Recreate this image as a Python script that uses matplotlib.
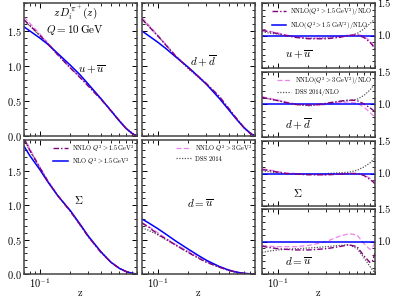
import numpy as np
import matplotlib
matplotlib.use('Agg')
import matplotlib.pyplot as plt
from matplotlib.ticker import MultipleLocator, NullFormatter, FixedLocator

plt.rcParams['font.family'] = 'serif'
plt.rcParams['font.serif'] = ['cmr10', 'DejaVu Serif']
plt.rcParams['mathtext.fontset'] = 'cm'
plt.rcParams['axes.formatter.use_mathtext'] = True
plt.rcParams['axes.unicode_minus'] = False

# z grid (shared by all curves)
z = [0.07, 0.08, 0.1, 0.12, 0.15, 0.2, 0.25, 0.3, 0.4, 0.5, 0.6, 0.7, 0.8, 0.85, 0.9]

# z D_i^{pi+}(z) at Q = 10 GeV
uu_nlo   = [1.56, 1.50, 1.40, 1.31, 1.18, 1.01, 0.87, 0.74, 0.53, 0.36, 0.22, 0.11, 0.04, 0.018, 0.004]
uu_nnlo1 = [1.66, 1.58, 1.44, 1.32, 1.16, 0.97, 0.83, 0.71, 0.52, 0.36, 0.22, 0.11, 0.038, 0.015, 0.003]
uu_nnlo3 = [1.70, 1.61, 1.46, 1.33, 1.17, 0.98, 0.84, 0.72, 0.53, 0.37, 0.23, 0.115, 0.039, 0.016, 0.003]
uu_dss   = [1.65, 1.57, 1.43, 1.31, 1.16, 0.97, 0.84, 0.72, 0.53, 0.36, 0.23, 0.12, 0.048, 0.022, 0.005]

dd_nlo   = [1.50, 1.44, 1.34, 1.25, 1.13, 0.98, 0.85, 0.74, 0.54, 0.37, 0.23, 0.12, 0.045, 0.02, 0.004]
dd_nnlo1 = [1.67, 1.58, 1.43, 1.30, 1.14, 0.97, 0.85, 0.75, 0.57, 0.39, 0.24, 0.12, 0.042, 0.018, 0.004]
dd_nnlo3 = [1.69, 1.60, 1.44, 1.31, 1.15, 0.97, 0.84, 0.74, 0.56, 0.38, 0.24, 0.12, 0.040, 0.017, 0.003]
dd_dss   = [1.66, 1.58, 1.43, 1.30, 1.14, 0.96, 0.84, 0.74, 0.56, 0.38, 0.24, 0.13, 0.052, 0.024, 0.005]

sg_nlo   = [1.86, 1.72, 1.52, 1.34, 1.14, 0.92, 0.72, 0.55, 0.32, 0.17, 0.085, 0.037, 0.012, 0.005, 0.001]
sg_nnlo1 = [1.98, 1.80, 1.55, 1.35, 1.14, 0.91, 0.71, 0.54, 0.31, 0.17, 0.084, 0.036, 0.010, 0.004, 0.001]
sg_nnlo3 = [2.00, 1.82, 1.56, 1.36, 1.15, 0.91, 0.71, 0.54, 0.31, 0.17, 0.084, 0.036, 0.010, 0.004, 0.001]
sg_dss   = [1.96, 1.79, 1.54, 1.35, 1.14, 0.91, 0.71, 0.54, 0.32, 0.17, 0.088, 0.040, 0.014, 0.006, 0.001]

du_nlo   = [0.80, 0.75, 0.66, 0.58, 0.48, 0.36, 0.27, 0.20, 0.11, 0.055, 0.025, 0.010, 0.003, 0.001, 0.0]
du_nnlo1 = [0.74, 0.69, 0.58, 0.51, 0.42, 0.31, 0.23, 0.17, 0.10, 0.052, 0.023, 0.008, 0.002, 0.001, 0.0]
du_nnlo3 = [0.75, 0.70, 0.60, 0.52, 0.43, 0.33, 0.25, 0.19, 0.11, 0.061, 0.027, 0.009, 0.0027, 0.001, 0.0]
du_dss   = [0.67, 0.64, 0.57, 0.50, 0.42, 0.32, 0.24, 0.18, 0.10, 0.052, 0.022, 0.007, 0.0016, 0.0005, 0.0]

# ratios to NLO
r_uu_nnlo1 = [1.08, 1.06, 1.03, 1.00, 0.97, 0.95, 0.95, 0.95, 0.97, 1.00, 1.01, 0.97, 0.90, 0.85, 0.79]
r_uu_nnlo3 = [1.09, 1.07, 1.04, 1.01, 0.98, 0.96, 0.96, 0.96, 0.98, 1.01, 1.02, 0.99, 0.92, 0.87, 0.81]
r_uu_dss   = [1.06, 1.04, 1.02, 1.00, 0.98, 0.96, 0.96, 0.97, 0.99, 1.00, 1.03, 1.10, 1.18, 1.22, 1.25]
r_dd_nnlo1 = [1.11, 1.09, 1.06, 1.03, 1.00, 0.99, 1.00, 1.02, 1.05, 1.07, 1.06, 1.01, 0.95, 0.92, 0.89]
r_dd_nnlo3 = [1.12, 1.10, 1.07, 1.04, 1.01, 0.99, 0.99, 1.00, 1.03, 1.04, 1.02, 0.96, 0.88, 0.84, 0.81]
r_dd_dss   = [1.10, 1.09, 1.06, 1.03, 1.00, 0.98, 0.99, 1.01, 1.04, 1.06, 1.08, 1.14, 1.22, 1.27, 1.30]
r_sg_nnlo1 = [1.06, 1.05, 1.02, 1.00, 0.99, 0.98, 0.98, 0.98, 0.99, 1.00, 1.00, 0.97, 0.91, 0.88, 0.84]
r_sg_nnlo3 = [1.07, 1.06, 1.03, 1.01, 1.00, 0.99, 0.98, 0.98, 0.99, 1.00, 1.00, 0.98, 0.93, 0.89, 0.85]
r_sg_dss   = [1.04, 1.03, 1.01, 1.00, 0.99, 0.99, 0.99, 1.00, 1.01, 1.02, 1.05, 1.10, 1.16, 1.20, 1.24]
r_du_nnlo1 = [0.93, 0.91, 0.89, 0.88, 0.87, 0.87, 0.88, 0.89, 0.92, 0.95, 0.92, 0.78, 0.68, 0.70, 0.82]
r_du_nnlo3 = [0.94, 0.93, 0.92, 0.92, 0.92, 0.94, 0.97, 1.00, 1.08, 1.12, 1.10, 0.97, 0.88, 0.90, 1.00]
r_du_dss   = [0.83, 0.85, 0.87, 0.88, 0.89, 0.90, 0.91, 0.92, 0.94, 0.95, 0.89, 0.75, 0.62, 0.56, 0.52]
r_nlo      = [1.0] * len(z)

C_NNLO1 = '#80007f'
C_NLO = '#0000ff'
C_NNLO3 = '#ee82ee'
C_DSS = '#555555'

def style(ax, ylim, right=False):
    ax.set_xscale('log')
    ax.set_xlim(0.07, 0.9)
    ax.set_ylim(*ylim)
    ax.tick_params(which='both', direction='in', top=True, right=True, labelsize=7.5, pad=1.5)
    ax.tick_params(which='major', length=3.5, width=0.7)
    ax.tick_params(which='minor', length=2, width=0.6)
    ax.xaxis.set_minor_formatter(NullFormatter())
    ax.yaxis.set_minor_locator(MultipleLocator(0.1))
    for s in ax.spines.values():
        s.set_linewidth(1.1)
        s.set_color('#444444')
    if right:
        ax.yaxis.set_major_locator(FixedLocator([0.5, 1.0, 1.5]))
        ax.yaxis.tick_right()
        ax.yaxis.set_ticks_position('both')
        ax.set_yticklabels(['', '1.0', '1.5'])
    else:
        ax.yaxis.set_major_locator(MultipleLocator(0.5))

def curves(ax, a, b, c, d):
    ax.plot(z, d, color=C_DSS, ls=(0, (1, 1.2)), lw=0.9, label='DSS 2014')
    ax.plot(z, c, color=C_NNLO3, ls=(0, (4, 2)), lw=0.9, label=r'NNLO $Q^2 > 3\,\mathrm{GeV}^2$')
    ax.plot(z, b, color=C_NLO, ls='-', lw=1.1, label=r'NLO $Q^2 > 1.5\,\mathrm{GeV}^2$')
    ax.plot(z, a, color=C_NNLO1, ls=(0, (4, 1.5, 1, 1.5)), lw=1.0, label=r'NNLO $Q^2 > 1.5\,\mathrm{GeV}^2$')

fig = plt.figure(figsize=(3.99, 2.99), dpi=100)
W = 399.0; H = 299.0
def box(x0, y0, x1, y1):
    return [x0 / W, 1 - y1 / H, (x1 - x0) / W, (y1 - y0) / H]

ax_uu = fig.add_axes(box(24, 3, 137, 136))
ax_dd = fig.add_axes(box(142, 3, 255, 136))
ax_sg = fig.add_axes(box(24, 140, 137, 274))
ax_du = fig.add_axes(box(142, 140, 255, 274))
rb = [(3, 68), (72, 137), (141, 206), (209, 274)]
rax = [fig.add_axes(box(262, y0, 375, y1)) for y0, y1 in rb]

for ax, data, yl in [(ax_uu, (uu_nnlo1, uu_nlo, uu_nnlo3, uu_dss), (0, 1.9)),
                     (ax_dd, (dd_nnlo1, dd_nlo, dd_nnlo3, dd_dss), (0, 1.9)),
                     (ax_sg, (sg_nnlo1, sg_nlo, sg_nnlo3, sg_dss), (0, 1.95)),
                     (ax_du, (du_nnlo1, du_nlo, du_nnlo3, du_dss), (0, 1.95))]:
    curves(ax, *data)
    style(ax, yl)

rdata = [(r_uu_nnlo1, r_nlo, r_uu_nnlo3, r_uu_dss),
         (r_dd_nnlo1, r_nlo, r_dd_nnlo3, r_dd_dss),
         (r_sg_nnlo1, r_nlo, r_sg_nnlo3, r_sg_dss),
         (r_du_nnlo1, r_nlo, r_du_nnlo3, r_du_dss)]
for ax, d in zip(rax, rdata):
    curves(ax, *d)
    style(ax, (0.5, 1.5), right=True)

for ax in [ax_dd, ax_du]:
    ax.set_yticklabels([])
for ax in [ax_uu, ax_dd] + rax[:3]:
    ax.set_xticklabels([])
for ax in [ax_sg, ax_du, rax[3]]:
    ax.set_xlabel('z', fontsize=7.5, labelpad=-1)

# labels
ax_uu.text(0.45, 0.925, r'$z\,D_i^{\pi^+}(z)$', transform=ax_uu.transAxes, ha='center', va='center', fontsize=8)
ax_uu.text(0.45, 0.80, r'$Q = 10\,\mathrm{GeV}$', transform=ax_uu.transAxes, ha='center', va='center', fontsize=8)
ax_uu.text(0.60, 0.50, r'$u+\overline{u}$', transform=ax_uu.transAxes, ha='center', va='center', fontsize=8)
ax_dd.text(0.54, 0.56, r'$d+\overline{d}$', transform=ax_dd.transAxes, ha='center', va='center', fontsize=8)
ax_sg.text(0.48, 0.55, r'$\Sigma$', transform=ax_sg.transAxes, ha='center', va='center', fontsize=8)
ax_du.text(0.52, 0.53, r'$d=\overline{u}$', transform=ax_du.transAxes, ha='center', va='center', fontsize=8)
for ax, lab in zip(rax, [r'$u+\overline{u}$', r'$d+\overline{d}$', r'$\Sigma$', r'$d=\overline{u}$']):
    ax.text(0.32, 0.2, lab, transform=ax.transAxes, ha='center', va='center', fontsize=8)

def leg(ax, idx, labels, hl=2.4):
    h, _ = ax.get_legend_handles_labels()
    ax.legend([h[i] for i in idx], labels, loc='upper right', fontsize=4.6, frameon=False,
              handlelength=hl, handletextpad=0.6, labelspacing=0.35, borderpad=0.2, borderaxespad=0.2)

leg(ax_sg, [3, 2], [r'NNLO $Q^2 > 1.5\,\mathrm{GeV}^2$', r'NLO $Q^2 > 1.5\,\mathrm{GeV}^2$'])
leg(ax_du, [1, 0], [r'NNLO $Q^2 > 3\,\mathrm{GeV}^2$', 'DSS 2014'])
leg(rax[0], [3, 2], [r'NNLO($Q^2 > 1.5\,\mathrm{GeV}^2$)/NLO', r'NLO($Q^2 > 1.5\,\mathrm{GeV}^2$)/NLO'], hl=2.2)
leg(rax[1], [1, 0], [r'NNLO($Q^2 > 3\,\mathrm{GeV}^2$)/NLO', 'DSS 2014/NLO'], hl=2.2)

fig.savefig('out.png', dpi=100)
